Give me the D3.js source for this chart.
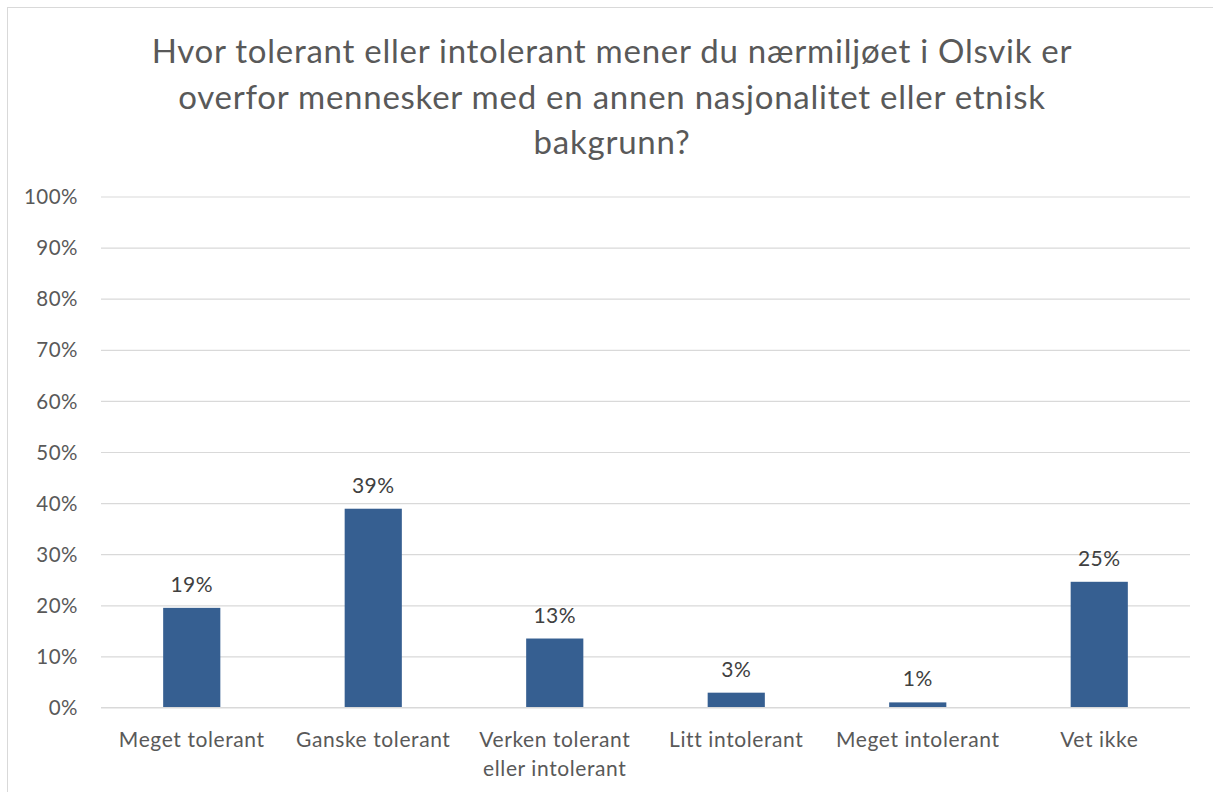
<!DOCTYPE html>
<html>
<head>
<meta charset="utf-8">
<script src="https://cdn.jsdelivr.net/npm/d3@7"></script>
<style>
  html, body { margin: 0; padding: 0; background: #fff; }
  svg { display: block; }
</style>
</head>
<body>
<svg id="chart" width="1213" height="792"></svg>
<script>
const titleLines = [
  "Hvor tolerant eller intolerant mener du nærmiljøet i Olsvik er",
  "overfor mennesker med en annen nasjonalitet eller etnisk",
  "bakgrunn?"
];
const categories = [
  ["Meget tolerant"],
  ["Ganske tolerant"],
  ["Verken tolerant", "eller intolerant"],
  ["Litt intolerant"],
  ["Meget intolerant"],
  ["Vet ikke"]
];
const values = [0.195, 0.389, 0.135, 0.029, 0.010, 0.246];
const valueLabels = ["19%", "39%", "13%", "3%", "1%", "25%"];
const yTicks = [0, 0.1, 0.2, 0.3, 0.4, 0.5, 0.6, 0.7, 0.8, 0.9, 1.0];

const svg = d3.select("#chart");
const font = "Lato, 'Open Sans', sans-serif";
const textColor = "#595959";

// chart frame
svg.append("rect")
  .attr("x", 7.5).attr("y", 7.5)
  .attr("width", 1230).attr("height", 800)
  .attr("fill", "#fff").attr("stroke", "#d9d9d9").attr("stroke-width", 1);

// title
const title = svg.append("text")
  .attr("text-anchor", "middle")
  .attr("font-family", font)
  .attr("font-size", 33)
  .attr("letter-spacing", 0.75)
  .attr("fill", textColor);
titleLines.forEach((l, i) => {
  title.append("tspan").attr("x", 612).attr("y", 63 + i * 45.5).text(l);
});

const plot = { left: 101, right: 1190, top: 196.5, bottom: 707.5 };

const x = d3.scaleBand()
  .domain(categories.map((d, i) => i))
  .range([plot.left, plot.right])
  .paddingInner(0).paddingOuter(0);
const barW = x.bandwidth() * 0.315;

const y = d3.scaleLinear().domain([0, 1]).range([plot.bottom, plot.top]);

// gridlines + y axis labels
const yAxis = d3.axisLeft(y)
  .tickValues(yTicks)
  .tickFormat(d3.format(".0%"))
  .tickSize(-(plot.right - plot.left))
  .tickPadding(23);
const gy = svg.append("g")
  .attr("transform", `translate(${plot.left},0)`)
  .call(yAxis);
gy.select(".domain").remove();
gy.selectAll(".tick line").attr("stroke", "#d9d9d9").attr("stroke-width", 1.2);
gy.selectAll(".tick text")
  .attr("font-family", font).attr("font-size", 20.5)
  .attr("letter-spacing", 0.5)
  .attr("fill", textColor).attr("dy", "0.35em");

// bars
svg.append("g").selectAll("rect")
  .data(values)
  .join("rect")
  .attr("x", (d, i) => x(i) + (x.bandwidth() - barW) / 2)
  .attr("width", barW)
  .attr("y", d => y(d))
  .attr("height", d => y(0) - y(d))
  .attr("fill", "#365f91");

// baseline redraw
svg.append("line")
  .attr("x1", plot.left).attr("x2", plot.right)
  .attr("y1", y(0)).attr("y2", y(0))
  .attr("stroke", "#d9d9d9").attr("stroke-width", 1.2);

// value labels
svg.append("g").selectAll("text")
  .data(values)
  .join("text")
  .attr("x", (d, i) => x(i) + x.bandwidth() / 2)
  .attr("y", d => y(d) - 16)
  .attr("text-anchor", "middle")
  .attr("font-family", font).attr("font-size", 21)
  .attr("letter-spacing", 0.5)
  .attr("fill", "#404040")
  .text((d, i) => valueLabels[i]);

// category labels
const xl = svg.append("g").selectAll("text")
  .data(categories)
  .join("text")
  .attr("text-anchor", "middle")
  .attr("font-family", font).attr("font-size", 21)
  .attr("letter-spacing", 0.6)
  .attr("fill", textColor);
xl.each(function (lines, i) {
  const t = d3.select(this);
  lines.forEach((l, j) => {
    t.append("tspan")
      .attr("x", x(i) + x.bandwidth() / 2)
      .attr("y", 747 + j * 28.5)
      .text(l);
  });
});
</script>
</body>
</html>
